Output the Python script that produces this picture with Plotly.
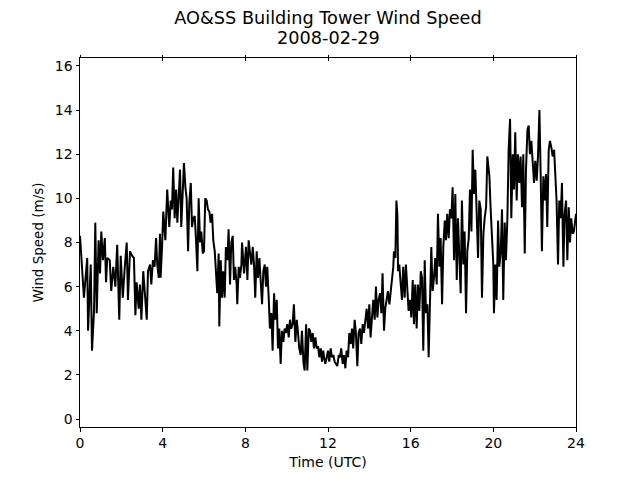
import plotly.graph_objects as go

# Time (hours UTC) and wind speed (m/s)
hours = [
    0.00, 0.19, 0.35, 0.39, 0.52, 0.58, 0.68, 0.74, 0.81, 0.90, 0.97, 1.03, 1.11, 1.20, 1.26, 1.32,
    1.44, 1.51, 1.61, 1.71, 1.80, 1.90, 1.97, 2.07, 2.16, 2.26, 2.32, 2.42, 2.52, 2.61, 2.68, 2.74,
    2.84, 2.90, 2.97, 3.06, 3.13, 3.23, 3.29, 3.39, 3.45, 3.53, 3.61, 3.68, 3.74, 3.81,
    3.87, 3.90, 3.97, 4.03, 4.13, 4.22, 4.32, 4.39, 4.45, 4.51, 4.58, 4.65, 4.71, 4.78, 4.84, 4.90,
    4.97, 5.03, 5.10, 5.16, 5.23, 5.29, 5.36, 5.42, 5.48, 5.55, 5.61, 5.68, 5.74, 5.81, 5.87, 5.94,
    6.00, 6.06, 6.13, 6.19, 6.26, 6.32, 6.39, 6.45, 6.52, 6.58, 6.64, 6.71, 6.74, 6.81, 6.87, 6.93,
    7.00, 7.06, 7.13, 7.19, 7.26, 7.32, 7.39, 7.45, 7.51, 7.58, 7.61, 7.68, 7.74, 7.81,
    7.84, 7.94, 8.03, 8.10, 8.16, 8.23, 8.29, 8.36, 8.42, 8.48, 8.55, 8.61, 8.68, 8.74, 8.81, 8.87,
    8.94, 9.00, 9.06, 9.13, 9.19, 9.26, 9.32, 9.39, 9.45, 9.52, 9.58, 9.64, 9.71, 9.77, 9.84, 9.90,
    9.97, 10.03, 10.10, 10.16, 10.22, 10.29, 10.35, 10.42, 10.49, 10.55, 10.61, 10.68, 10.74, 10.81,
    10.87, 10.94, 11.00, 11.07, 11.13, 11.19, 11.26, 11.32, 11.39, 11.45, 11.52, 11.58, 11.65, 11.71,
    11.77,
    11.81, 11.87, 11.94, 12.00, 12.06, 12.13, 12.19, 12.26, 12.32, 12.39, 12.45, 12.52, 12.58, 12.64,
    12.71, 12.77, 12.84, 12.90, 12.97, 13.03, 13.10, 13.16, 13.22, 13.29, 13.35, 13.42, 13.48, 13.55,
    13.61, 13.68, 13.74, 13.81, 13.87, 13.94, 14.00, 14.06, 14.13, 14.19, 14.26, 14.32, 14.39, 14.45,
    14.52, 14.58, 14.64, 14.71, 14.77, 14.84, 14.90, 14.97, 15.03, 15.10, 15.16, 15.19, 15.26, 15.31,
    15.36, 15.39, 15.45, 15.52, 15.58, 15.64, 15.71,
    15.77, 15.84, 15.90, 15.97, 16.03, 16.10, 16.16, 16.22, 16.29, 16.35, 16.42, 16.49, 16.55, 16.61,
    16.68, 16.74, 16.81, 16.87, 16.94, 17.00, 17.06, 17.13, 17.19, 17.26, 17.32, 17.39, 17.45, 17.52,
    17.58, 17.65, 17.71, 17.77, 17.84, 17.90, 17.97, 18.03, 18.10, 18.16, 18.23, 18.29, 18.35, 18.42,
    18.48, 18.55, 18.61, 18.68, 18.74, 18.81, 18.87, 18.94, 19.00, 19.06, 19.13, 19.19, 19.26, 19.32,
    19.39, 19.45, 19.52, 19.58, 19.65, 19.71,
    19.81, 19.87, 19.94, 20.00, 20.03, 20.10, 20.16, 20.23, 20.29, 20.36, 20.42, 20.48, 20.55, 20.61,
    20.68, 20.74, 20.81, 20.87, 20.94, 21.00, 21.06, 21.13, 21.19, 21.26, 21.32, 21.39, 21.45, 21.52,
    21.58, 21.65, 21.71, 21.77, 21.84, 21.90, 21.97, 22.03, 22.10, 22.16, 22.23, 22.29, 22.35, 22.42,
    22.48, 22.55, 22.61, 22.68, 22.74, 22.81, 22.87, 22.94, 23.00, 23.06, 23.13, 23.19, 23.26, 23.32,
    23.39, 23.45, 23.52, 23.58, 23.65, 23.71, 23.77, 23.84, 23.90, 23.97, 24.00,
]

speed = [
    8.3, 5.5, 7.3, 4.0, 7.0, 3.1, 4.9, 8.9, 4.8, 8.1, 6.6, 8.5, 7.2, 8.2, 6.2, 7.3,
    7.2, 5.8, 6.9, 6.0, 7.9, 4.5, 7.4, 5.5, 6.8, 8.0, 5.4, 7.6, 7.4, 7.3, 4.7, 6.2,
    5.0, 6.1, 4.5, 6.7, 5.8, 4.5, 6.7, 7.0, 6.1, 7.2, 6.9, 8.2, 7.0, 6.4,
    8.4, 6.4, 7.8, 9.4, 8.1, 10.4, 8.7, 9.9, 9.5, 11.4, 9.1, 10.4, 8.9, 10.2, 11.3, 8.7,
    10.4, 11.6, 10.5, 10.0, 7.6, 9.8, 10.7, 8.7, 9.1, 9.2, 8.2, 6.7, 10.0, 8.0, 8.5, 7.5,
    7.6, 10.0, 9.9, 9.5, 9.4, 8.9, 9.3, 8.1, 7.6, 6.3, 5.7, 7.5, 4.2, 7.2, 5.5, 6.7,
    5.5, 7.8, 7.2, 8.6, 6.1, 8.0, 8.3, 6.3, 6.9, 6.1, 5.2, 6.9, 6.4, 7.0,
    8.0, 6.6, 7.8, 6.3, 8.1, 7.5, 7.0, 7.8, 7.0, 5.5, 7.6, 6.4, 7.3, 6.3, 5.2, 6.7,
    7.0, 6.0, 6.9, 5.5, 4.1, 4.8, 3.1, 5.7, 4.5, 5.4, 3.2, 4.1, 2.5, 4.0, 3.5, 4.1,
    3.9, 4.3, 3.7, 4.5, 4.1, 4.3, 5.2, 3.5, 4.5, 3.9, 3.2, 2.9, 4.0, 2.6,
    2.2, 4.3, 2.2, 4.1, 4.0, 3.5, 3.9, 3.2, 3.7, 3.2, 3.3, 2.8, 3.2, 2.6,
    3.1,
    2.8, 2.5, 2.8, 3.1, 2.6, 3.2, 2.8, 2.9, 2.6, 2.5, 2.4, 2.9, 2.8, 3.2,
    2.5, 2.9, 2.3, 3.1, 2.8, 3.9, 3.4, 4.1, 3.2, 4.5, 3.9, 2.4, 3.9, 4.1,
    3.4, 4.3, 3.9, 4.5, 5.0, 4.1, 5.2, 3.7, 4.8, 5.4, 4.5, 6.0, 4.6, 5.4,
    5.7, 4.8, 6.6, 4.0, 5.0, 5.5, 5.8, 5.2, 5.7, 6.1, 6.9, 7.6, 7.3, 9.9,
    9.2, 6.7, 7.0, 6.1, 5.4, 6.9, 5.5,
    7.0, 5.7, 4.9, 5.4, 4.6, 6.3, 4.3, 6.1, 4.1, 6.1, 4.9, 6.7, 6.4, 3.1,
    7.2, 4.8, 5.2, 2.8, 5.2, 7.8, 5.8, 6.4, 7.3, 6.1, 9.3, 6.9, 8.2, 5.2,
    7.8, 9.0, 8.1, 9.3, 8.2, 9.5, 9.1, 10.5, 7.2, 10.2, 6.3, 9.1, 7.5, 5.7,
    9.9, 7.0, 8.5, 4.8, 7.6, 8.2, 10.4, 8.5, 12.2, 10.2, 11.3, 9.6, 7.3, 9.9,
    9.5, 5.5, 8.4, 9.1, 9.6, 11.9,
    11.0, 9.5, 8.4, 7.0, 4.8, 7.0, 5.4, 9.0, 6.9, 7.6, 9.5, 5.4, 8.9, 7.2,
    9.1, 12.2, 13.6, 9.1, 12.0, 10.4, 13.0, 9.9, 12.0, 10.7, 11.9, 9.6, 12.0, 7.5,
    11.3, 13.1, 13.3, 12.0, 12.6, 11.9, 10.7, 11.7, 10.8, 11.9, 14.0, 11.1, 7.6, 11.0,
    9.9, 11.1, 8.7, 12.2, 12.6, 12.3, 11.9, 12.2, 11.0, 9.9, 7.0, 9.9, 9.1, 10.7,
    6.9, 9.3, 9.9, 7.2, 9.6, 8.0, 9.1, 8.4, 8.5, 9.1, 9.3,
]

x_ticks = [0, 4, 8, 12, 16, 20, 24]
y_ticks = [0, 2, 4, 6, 8, 10, 12, 14, 16]

title_line1 = "AO&amp;SS Building Tower Wind Speed"
title_line2 = "2008-02-29"

FONT = "DejaVu Sans"

fig = go.Figure()
fig.add_trace(go.Scatter(
    x=hours, y=speed, mode="lines",
    line=dict(color="black", width=2),
    showlegend=False, hoverinfo="skip",
))

axis_common = dict(
    showgrid=False, zeroline=False,
    linecolor="black", linewidth=1,
    tickcolor="black", ticklen=3.5, tickwidth=1,
    tickfont=dict(family=FONT, size=14, color="black"),
)

fig.update_layout(
    width=640, height=480,
    margin=dict(l=80, r=64, t=58, b=53),
    plot_bgcolor="white", paper_bgcolor="white",
    title=dict(
        text=title_line1,
        font=dict(family=FONT, size=17.7, color="black"),
        x=0.5125, xanchor="center",
        y=1 - 18 / 480, yanchor="middle", yref="container",
    ),
    xaxis=dict(
        range=[0, 24], tickvals=x_ticks, ticks="outside",
        showline=True, mirror=True,
        title=dict(text="Time (UTC)", font=dict(family=FONT, size=14, color="black"), standoff=6),
        **axis_common,
    ),
    xaxis2=dict(
        range=[0, 24], tickvals=x_ticks, ticks="outside", overlaying="x", side="top",
        showticklabels=False, showline=False, showgrid=False, zeroline=False,
        tickcolor="black", ticklen=2.5, tickwidth=1, anchor="y",
    ),
    xaxis3=dict(
        range=[0, 24], tickvals=x_ticks, ticks="inside", overlaying="x", side="top",
        showticklabels=False, showline=False, showgrid=False, zeroline=False,
        tickcolor="black", ticklen=2.5, tickwidth=1, anchor="y",
    ),
    yaxis=dict(
        range=[-0.36, 16.36], tickvals=y_ticks, ticks="outside",
        showline=True, mirror=True,
        title=dict(text="Wind Speed (m/s)", font=dict(family=FONT, size=13.5, color="black"), standoff=8),
        **axis_common,
    ),
    annotations=[dict(
        text=title_line2, xref="paper", yref="paper",
        x=0.5, y=1 + 20 / 369, xanchor="center", yanchor="middle",
        showarrow=False, font=dict(family=FONT, size=17.7, color="black"),
    )],
)

# Empty traces so the top tick axes are drawn
fig.add_trace(go.Scatter(x=[None], y=[None], xaxis="x2", yaxis="y", showlegend=False, hoverinfo="skip"))
fig.add_trace(go.Scatter(x=[None], y=[None], xaxis="x3", yaxis="y", showlegend=False, hoverinfo="skip"))

fig.write_html("out.html", config={"displayModeBar": False})

# Remove the browser's default page margin so the figure sits at the window's corner
with open("out.html", "r", encoding="utf-8") as f:
    html = f.read()
html = html.replace("<body>", '<body style="margin:0;padding:0;overflow:hidden">', 1)
with open("out.html", "w", encoding="utf-8") as f:
    f.write(html)
